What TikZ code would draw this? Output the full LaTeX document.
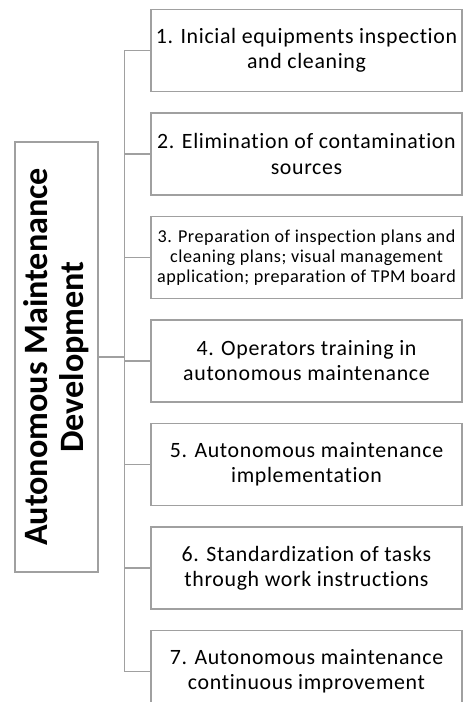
\documentclass[tikz,border=0pt]{standalone}
\usepackage{fontspec}
\setmainfont{Carlito}[Ligatures=NoCommon]
\newfontfamily\boxfont{Carlito}[Ligatures=NoCommon, LetterSpace=3]
\usetikzlibrary{positioning}
\definecolor{linegray}{RGB}{160,160,160}

\begin{document}
\begin{tikzpicture}[
    x=0.75pt, y=-0.75pt,
    stepbox/.style={draw=linegray, line width=1.1pt, minimum width=233pt, minimum height=61.5pt, align=center, inner sep=0pt, font=\boxfont\fontsize{16.4}{18.8}\selectfont},
    mainbox/.style={draw=linegray, line width=1.1pt, rotate=90, minimum width=322.5pt, minimum height=62.25pt, align=center, inner sep=0pt, font=\fontsize{25.6}{27}\selectfont\bfseries},
    link/.style={draw=linegray, line width=1.1pt}
  ]

  \useasboundingbox (0,0) rectangle (463,702);

  % Steps
  \node[stepbox] (s1) at (306.5,50.5) {1. Inicial equipments inspection\\and cleaning};
  \node[stepbox, below=15pt of s1] (s2) {2. Elimination of contamination\\sources};
  \node[stepbox, below=15pt of s2, font=\boxfont\fontsize{13.6}{15}\selectfont] (s3) {3. Preparation of inspection plans and\\cleaning plans; visual management\\application; preparation of TPM board};
  \node[stepbox, below=15pt of s3] (s4) {4. Operators training in\\autonomous maintenance};
  \node[stepbox, below=15pt of s4] (s5) {5. Autonomous maintenance\\implementation};
  \node[stepbox, below=15pt of s5] (s6) {6. Standardization of tasks\\through work instructions};
  \node[stepbox, below=15pt of s6] (s7) {7. Autonomous maintenance\\continuous improvement};

  % Main box
  \node[mainbox] (main) at (56.5,357) {Autonomous Maintenance\\Development};

  % Bus
  \coordinate (bustop) at ([xshift=-19.5pt]s1.west);
  \coordinate (busbot) at ([xshift=-19.5pt]s7.west);
  \draw[link] (s1.west) -- (bustop) -- (busbot) -- (s7.west);
  \foreach \i in {2,...,6}
    \draw[link] (s\i.west) -- (s\i.west -| bustop);
  \draw[link] (main.south) -- (main.south -| bustop);

\end{tikzpicture}
\end{document}
